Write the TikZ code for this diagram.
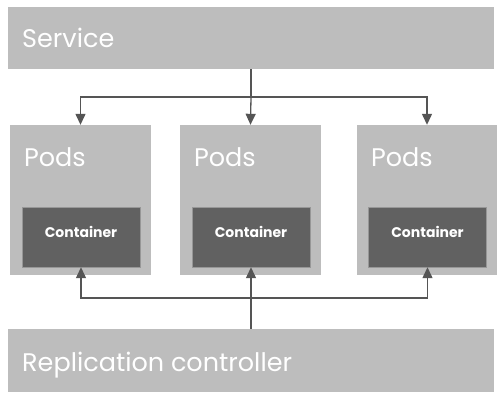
\documentclass[tikz,border=0pt]{standalone}
\usepackage{fontspec}
\setmainfont{Poppins}
\usetikzlibrary{arrows.meta}
\definecolor{panelgray}{HTML}{BDBDBD}
\definecolor{boxgray}{HTML}{616161}
\definecolor{linegray}{HTML}{555555}
\tikzset{
  panel/.style={fill=panelgray, draw=none, inner sep=0pt},
  contbox/.style={fill=boxgray, draw=panelgray!80!black, line width=0.4pt, inner sep=0pt,
    minimum width=118pt, minimum height=60pt},
  conttext/.style={text=white, inner sep=0pt, font=\fontsize{14}{16}\selectfont\bfseries},
  bigtext/.style={text=white, inner sep=0pt, font=\fontsize{25.5}{30}\selectfont},
  arr/.style={draw=linegray, line width=1.3pt},
  tip/.style={-{Triangle[length=11pt,width=10pt]}}
}
\begin{document}
\begin{tikzpicture}[x=1pt,y=-1pt]
  \useasboundingbox[fill=white] (0,0) rectangle (501,400);
  % service
  \node[panel, minimum width=486pt, minimum height=62pt] (service) at (251,38) {};
  \node[bigtext, anchor=base west] (servicelabel) at (22,47) {Service};
  % pods with containers
  \node[panel, minimum width=141pt, minimum height=150pt] (pod1) at (80.5,200) {};
  \node[panel, minimum width=141pt, minimum height=150pt] (pod2) at (250.5,200) {};
  \node[panel, minimum width=140pt, minimum height=150pt] (pod3) at (427,200) {};
  \foreach \i in {1,2,3}
    \node[bigtext, anchor=base west] (podlabel\i) at ([xshift=14pt,yshift=-42pt]pod\i.north west) {Pods};
  \node[contbox] (cont1) at (81,237) {};
  \node[contbox] (cont2) at (251,237) {};
  \node[contbox] (cont3) at (427.5,237) {};
  \foreach \i in {1,2,3}
    \node[conttext, anchor=base] (contlabel\i) at (cont\i.center) {Container};
  % replication controller
  \node[panel, minimum width=486pt, minimum height=63pt] (rc) at (251,360.5) {};
  \node[bigtext, anchor=base west] (rclabel) at (22,371) {Replication controller};
  % connectors
  \coordinate (split) at (251,97);
  \coordinate (merge) at (251,298);
  \draw[arr] (service.south) -- (split);
  \draw[arr,tip] (split) -| (pod1.north);
  \draw[arr,tip] (split) -- (pod2.north);
  \draw[arr,tip] (split) -| (pod3.north);
  \draw[arr,tip] (rc.north) -- (cont2.south);
  \draw[arr,tip] (merge) -| (cont1.south);
  \draw[arr,tip] (merge) -| (cont3.south);
\end{tikzpicture}
\end{document}
